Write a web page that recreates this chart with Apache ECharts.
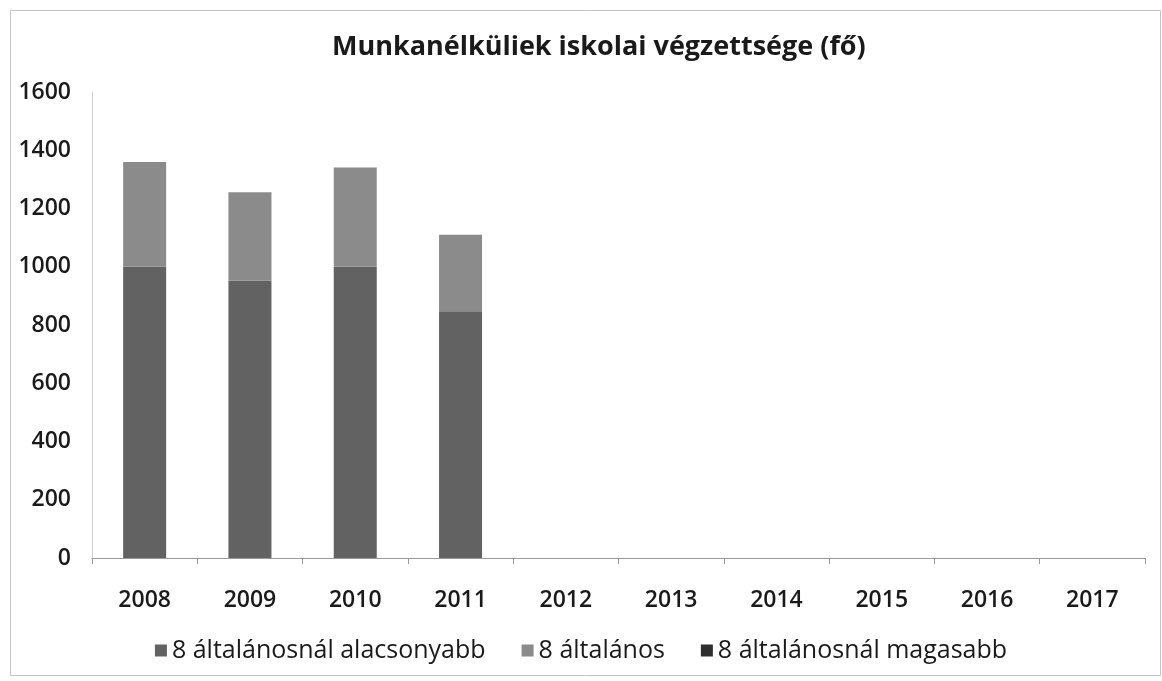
<!DOCTYPE html>
<html>
<head>
<meta charset="utf-8">
<script src="https://cdn.jsdelivr.net/npm/echarts@6/dist/echarts.min.js"></script>
<style>
  html, body { margin: 0; padding: 0; background: #fff; }
  #chart { width: 1162px; height: 681px; }
</style>
</head>
<body>
<div id="chart"></div>
<script>
// data
var years = ["2008", "2009", "2010", "2011", "2012", "2013", "2014", "2015", "2016", "2017"];
var alacsonyabb = [1000, 952, 1000, 847, null, null, null, null, null, null];
var altalanos = [360, 304, 341, 263, null, null, null, null, null, null];
var magasabb = [0, 0, 0, 0, null, null, null, null, null, null];
var yTicks = [0, 200, 400, 600, 800, 1000, 1200, 1400, 1600];

var font = "Open Sans";
var myChart = echarts.init(document.getElementById("chart"));

var option = {
  backgroundColor: "#fff",
  animation: false,
  title: {
    text: "Munkanélküliek iskolai végzettsége (fő)",
    left: 327,
    top: 29,
    textStyle: { fontFamily: font, fontSize: 27, fontWeight: "bold", color: "#1a1a1a" }
  },
  grid: { left: 92, right: 17, top: 92, bottom: 123 },
  legend: {
    bottom: 13,
    left: "center",
    itemWidth: 12,
    itemHeight: 12,
    itemGap: 36,
    icon: "rect",
    textStyle: { fontFamily: font, fontSize: 25, color: "#1a1a1a" },
    data: ["8 általánosnál alacsonyabb", "8 általános", "8 általánosnál magasabb"]
  },
  xAxis: {
    type: "category",
    data: years,
    axisLine: { lineStyle: { color: "#9a9a9a", width: 1 } },
    axisTick: { show: true, length: 6, lineStyle: { color: "#9a9a9a" } },
    axisLabel: { fontFamily: font, fontSize: 23, fontWeight: 600, color: "#1a1a1a", margin: 31 }
  },
  yAxis: {
    type: "value",
    min: yTicks[0],
    max: yTicks[yTicks.length - 1],
    interval: 200,
    axisLine: { show: true, lineStyle: { color: "#cfcfcf" } },
    axisTick: { show: false },
    splitLine: { show: false },
    axisLabel: {
      fontFamily: font, fontSize: 23, fontWeight: 600, color: "#1a1a1a", margin: 21,
      formatter: function (v) { return String(v); }
    }
  },
  series: [
    {
      name: "8 általánosnál alacsonyabb",
      type: "bar",
      stack: "total",
      barWidth: 43,
      itemStyle: { color: "#626262" },
      data: alacsonyabb
    },
    {
      name: "8 általános",
      type: "bar",
      stack: "total",
      barWidth: 43,
      itemStyle: { color: "#8b8b8b" },
      data: altalanos
    },
    {
      name: "8 általánosnál magasabb",
      type: "bar",
      stack: "total",
      barWidth: 43,
      itemStyle: { color: "#2e2e2e" },
      data: magasabb
    }
  ],
  graphic: [
    {
      type: "rect",
      shape: { x: 10.5, y: 10.5, width: 1150, height: 665 },
      style: { fill: "none", stroke: "#c4c4c4", lineWidth: 1 },
      silent: true
    }
  ]
};

myChart.setOption(option);
</script>
</body>
</html>
